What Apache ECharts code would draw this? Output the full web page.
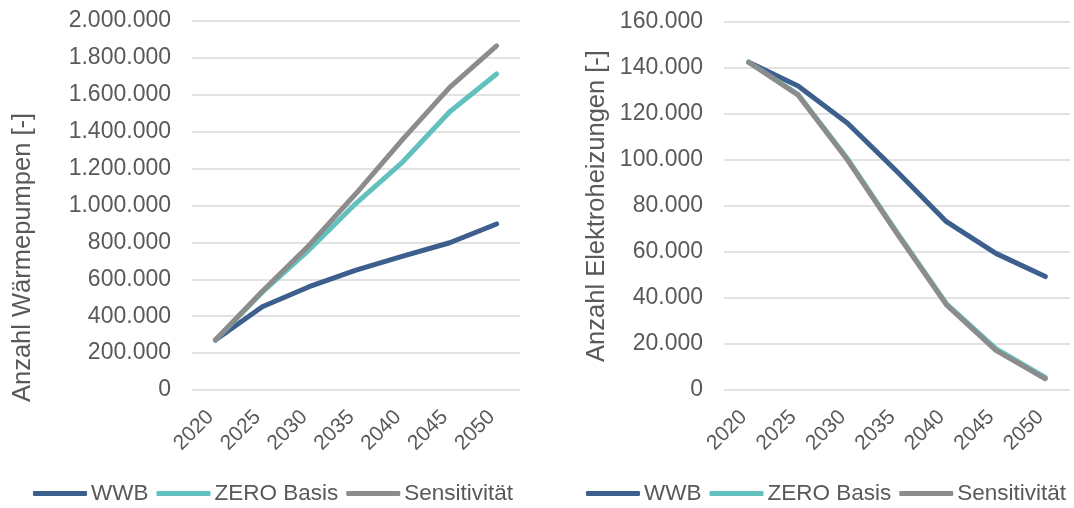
<!DOCTYPE html>
<html>
<head>
<meta charset="utf-8">
<script src="https://cdn.jsdelivr.net/npm/echarts@6/dist/echarts.min.js"></script>
<style>
html,body{margin:0;padding:0;background:#fff;}
#c{width:1074px;height:508px;}
</style>
</head>
<body>
<div id="c"></div>
<script>
const years = ['2020','2025','2030','2035','2040','2045','2050'];
const seriesNames = ['WWB','ZERO Basis','Sensitivität'];
// Left: Anzahl Wärmepumpen
const wpWWB = [271000, 451000, 560000, 650000, 726000, 798000, 900000];
const wpZero = [271000, 530000, 760000, 1012000, 1237000, 1508000, 1713000];
const wpSens = [271000, 535000, 785000, 1065000, 1360000, 1640000, 1865000];
// Right: Anzahl Elektroheizungen
const ehWWB = [142500, 132200, 116000, 95000, 73200, 59400, 49300];
const ehZero = [142500, 128500, 100500, 68500, 37500, 18000, 5500];
const ehSens = [142500, 128200, 100000, 68000, 37000, 17200, 4900];

const colors = ['#3C5F8E', '#62C1BE', '#8C8C8C'];
const textColor = '#595959';
const font = 'Liberation Sans, Arial, sans-serif';

function fmt(v){ return String(Math.round(v)).replace(/\B(?=(\d{3})+(?!\d))/g, '.'); }

function yAxis(idx, max, interval, name, gap, pad){
  return {
    type:'value', gridIndex: idx, min:0, max:max, interval:interval,
    name:name, nameLocation:'middle', nameGap:gap,
    nameTextStyle:{color:textColor, fontSize:25.5, fontFamily:font, padding:pad},
    axisLine:{show:false}, axisTick:{show:false},
    axisLabel:{color:textColor, fontSize:23, fontFamily:font, margin:21, formatter:fmt},
    splitLine:{lineStyle:{color:'#D9D9D9', width:1.5}}
  };
}
function xAxis(idx){
  return {
    type:'category', gridIndex: idx, data: years, boundaryGap:true,
    axisLine:{show:false}, axisTick:{show:false},
    axisLabel:{color:textColor, fontSize:21, fontFamily:font, rotate:45, margin:19, interval:0, padding:[0,7,0,0]}
  };
}
function line(name, data, idx, color){
  return {
    name:name, type:'line', xAxisIndex:idx, yAxisIndex:idx, data:data,
    symbol:'none', lineStyle:{color:color, width:5, cap:'round', join:'round'},
    itemStyle:{color:color}, emphasis:{disabled:true}
  };
}
function legend(leftPos){
  return {
    data: seriesNames, top: 482, left: leftPos, width: 500, padding: 0,
    itemWidth:54, itemHeight:5, itemGap:8,
    icon:'roundRect',
    textStyle:{color:textColor, fontSize:22.5, fontFamily:font, padding:[0,0,0,-1]},
    selectedMode:false
  };
}

const chart = echarts.init(document.getElementById('c'), null, {renderer:'canvas'});
chart.setOption({
  animation:false,
  backgroundColor:'#fff',
  grid:[
    {left:192, top:21, width:328, height:369},
    {left:724, top:22, width:346, height:368}
  ],
  xAxis:[xAxis(0), xAxis(1)],
  yAxis:[
    yAxis(0, 2000000, 200000, 'Anzahl Wärmepumpen [-]', 156, [0,104,0,0]),
    yAxis(1, 160000, 20000, 'Anzahl Elektroheizungen [-]', 114, 0)
  ],
  legend:[legend(33), legend(586)],
  series:[
    line('WWB', wpWWB, 0, colors[0]),
    line('ZERO Basis', wpZero, 0, colors[1]),
    line('Sensitivität', wpSens, 0, colors[2]),
    line('WWB', ehWWB, 1, colors[0]),
    line('ZERO Basis', ehZero, 1, colors[1]),
    line('Sensitivität', ehSens, 1, colors[2])
  ]
});
</script>
</body>
</html>
